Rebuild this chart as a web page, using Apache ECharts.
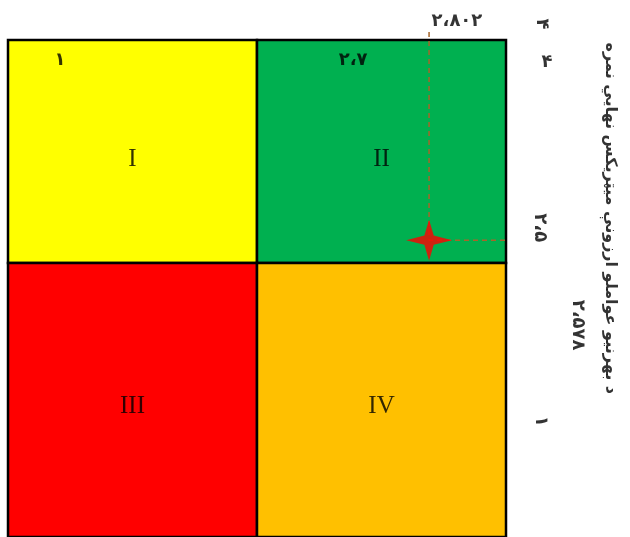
<!DOCTYPE html>
<html>
<head>
<meta charset="utf-8">
<script src="https://cdn.jsdelivr.net/npm/echarts@6/dist/echarts.min.js"></script>
<style>
  html, body { margin: 0; padding: 0; background: #fff; }
  #main { width: 630px; height: 537px; }
</style>
</head>
<body>
<div id="main"></div>
<script>
// 象限（左上、右上、左下、右下）
const cellNames = ['I', 'II', 'III', 'IV'];
const cellX0 = [0, 1, 0, 1];
const cellX1 = [1, 2, 1, 2];
const cellY0 = [0, 0, 1.01, 1.01];
const cellY1 = [1.01, 1.01, 2.25, 2.25];
const cellColors = ['#ffff00', '#00b050', '#ff0000', '#ffc000'];
const romanX = [0.5, 1.5, 0.5, 1.5];
const romanY = [0.54, 0.54, 1.66, 1.66];

// 星点（最终得分）
const pointX = 1.691;
const pointY = 0.906;
const guideTop = -0.036;
const guideRight = 2.06;

// 格子里的数字
const cellTexts = ['۱', '۲،۷'];
const cellTextX = [0.209, 1.386];
const cellTextY = [0.09, 0.09];

// 右侧与上方的刻度文字（旋转）
const sideTexts = ['۲،۸۰۲', '۴', '۴', '۲،۵', '۱', '۲،۵۷۸'];
const sideX = [1.803, 2.145, 2.165, 2.137, 2.141, 2.289];
const sideY = [-0.085, -0.072, 0.099, 0.85, 1.726, 1.291];
const sideRotate = [0, -90, 0, -90, -90, -90];

const axisTitle = 'د بهرنیو عواملو ارزونې میټریکس نهایي نمره';
const titleX = 2.418;
const titleY = 0.807;

const chart = echarts.init(document.getElementById('main'));

const cellData = cellNames.map((n, i) => [cellX0[i], cellY0[i], cellX1[i], cellY1[i], i]);

const option = {
  animation: false,
  grid: { left: 8, top: 40, width: 498, height: 502 },
  xAxis: { type: 'value', min: 0, max: 2, show: false },
  yAxis: { type: 'value', min: 0, max: 2.25, inverse: true, show: false },
  series: [
    // 四个色块
    {
      type: 'custom',
      clip: false,
      data: cellData,
      renderItem: function (params, api) {
        const p0 = api.coord([api.value(0), api.value(1)]);
        const p1 = api.coord([api.value(2), api.value(3)]);
        return {
          type: 'rect',
          shape: { x: p0[0], y: p0[1], width: p1[0] - p0[0], height: p1[1] - p0[1] },
          style: { fill: cellColors[api.value(4)], stroke: '#000', lineWidth: 2.5 }
        };
      },
      z: 1
    },
    // 罗马数字
    {
      type: 'scatter',
      symbolSize: 0,
      data: cellNames.map((n, i) => ({ name: n, value: [romanX[i], romanY[i]] })),
      label: {
        show: true, position: 'inside', formatter: '{b}',
        fontFamily: 'Liberation Serif', fontSize: 25, color: '#000'
      },
      z: 3
    },
    // 格内数字
    {
      type: 'scatter',
      symbolSize: 0,
      data: cellTexts.map((t, i) => ({ name: t, value: [cellTextX[i], cellTextY[i]] })),
      label: {
        show: true, position: 'inside', formatter: '{b}',
        fontFamily: 'DejaVu Sans', fontWeight: 'bold', fontSize: 18, color: '#000'
      },
      z: 3
    },
    // 虚线引导线
    {
      type: 'line',
      clip: false,
      symbol: 'none',
      data: [[pointX, guideTop], [pointX, pointY], [guideRight, pointY]],
      lineStyle: { color: '#a5662a', width: 1.5, type: [5, 4] },
      z: 4
    },
    // 星
    {
      type: 'scatter',
      clip: false,
      symbol: 'path://M0,-20 L4.5,-4.5 L22,0 L4.5,4.5 L0,20 L-4.5,4.5 L-22,0 L-4.5,-4.5 Z',
      symbolSize: [46, 41],
      data: [[pointX, pointY]],
      itemStyle: { color: '#ff0000' },
      z: 5
    },
    // 外侧文字
    {
      type: 'scatter',
      clip: false,
      symbolSize: 0,
      data: sideTexts.map((t, i) => ({
        name: t,
        value: [sideX[i], sideY[i]],
        label: { rotate: sideRotate[i] }
      })),
      label: {
        show: true, position: 'inside', formatter: '{b}',
        fontFamily: 'DejaVu Sans', fontWeight: 'bold', fontSize: 18, color: '#000'
      },
      z: 3
    },
    // 纵向标题
    {
      type: 'scatter',
      clip: false,
      symbolSize: 0,
      data: [{ name: axisTitle, value: [titleX, titleY] }],
      label: {
        show: true, position: 'inside', formatter: '{b}', rotate: -90,
        fontFamily: 'DejaVu Sans', fontWeight: 'bold', fontSize: 16, color: '#000'
      },
      z: 3
    }
  ]
};

chart.setOption(option);
</script>
</body>
</html>
